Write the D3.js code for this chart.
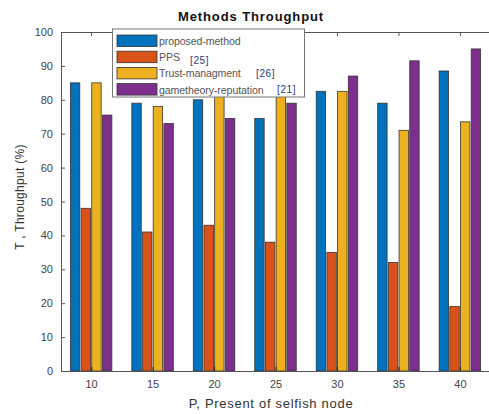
<!DOCTYPE html>
<html><head><meta charset="utf-8">
<script src="https://cdn.jsdelivr.net/npm/d3@7"></script>
<style>body{margin:0;background:#fff}svg{display:block}text{font-family:Arial,"Liberation Sans",sans-serif}</style>
</head><body>
<script>
const categories = [10, 15, 20, 25, 30, 35, 40];
const seriesNames = ["proposed-method", "PPS", "Trust-managment", "gametheory-reputation"];
const seriesCites = ["", "[25]", "[26]", "[21]"];
const proposed = [85, 79, 80, 74.5, 82.5, 79, 88.5];
const pps = [48, 41, 43, 38, 35, 32, 19];
const trust = [85, 78, 83, 81, 82.5, 71, 73.5];
const game = [75.5, 73, 74.5, 79, 87, 91.5, 95];
const yTicks = [0, 10, 20, 30, 40, 50, 60, 70, 80, 90, 100];
const colors = ["#0072BD", "#D95319", "#EDB120", "#7E2F8E"];
const series = [proposed, pps, trust, game];

const W = 489, H = 414;
const svg = d3.select("body").append("svg").attr("width", W).attr("height", H);
const mLeft = 61, mRight = 490, mTop = 32, mBottom = 371;
const x = d3.scaleLinear().domain([7.55, 42.45]).range([mLeft, mRight]);
const y = d3.scaleLinear().domain([0, 100]).range([mBottom, mTop]);
const unit = x(15) - x(10);
const slot = unit * 0.174;
const barW = slot * 0.88;

// bars
series.forEach((vals, si) => {
  svg.append("g").selectAll("rect").data(vals).join("rect")
    .attr("x", (d, i) => x(categories[i]) + (si - 1.5) * slot - barW / 2)
    .attr("y", d => y(d))
    .attr("width", barW)
    .attr("height", d => y(0) - y(d))
    .attr("fill", colors[si])
    .attr("stroke", "#333").attr("stroke-width", 0.8);
});

// axes
const axisColor = "#555";
const yAxis = svg.append("g").attr("transform", `translate(${mLeft},0)`)
  .call(d3.axisLeft(y).tickValues(yTicks).tickSize(-4).tickPadding(8));
yAxis.select(".domain").attr("stroke", axisColor);
yAxis.selectAll(".tick line").attr("stroke", axisColor);
yAxis.selectAll("text").attr("fill", "#444").attr("font-size", 11);

const xAxis = svg.append("g").attr("transform", `translate(0,${mBottom})`)
  .call(d3.axisBottom(x).tickValues(categories).tickSize(-4).tickPadding(9));
xAxis.select(".domain").attr("stroke", axisColor);
xAxis.selectAll(".tick line").attr("stroke", "#222");
xAxis.selectAll("text").attr("fill", "#444").attr("font-size", 11);

// top border with ticks
const xTop = svg.append("g").attr("transform", `translate(0,${mTop})`)
  .call(d3.axisTop(x).tickValues(categories).tickSize(-4).tickFormat(""));
xTop.select(".domain").attr("stroke", axisColor);
xTop.selectAll(".tick line").attr("stroke", axisColor);

// title & labels
svg.append("text").attr("x", 251).attr("y", 21).attr("text-anchor", "middle")
  .attr("font-size", 13).attr("font-weight", "bold").attr("letter-spacing", 0.9)
  .attr("fill", "#111").text("Methods Throughput");
svg.append("text").attr("transform", `translate(24,197) rotate(-90)`)
  .attr("text-anchor", "middle").attr("font-size", 12).attr("fill", "#333")
  .attr("letter-spacing", 0.3).text("T ,   Throughput (%)");
svg.append("text").attr("x", 271).attr("y", 408).attr("text-anchor", "middle")
  .attr("font-size", 13).attr("fill", "#333").attr("letter-spacing", 0.7)
  .text("P, Present of selfish node");

// legend
const lg = svg.append("g");
lg.append("rect").attr("x", 112.5).attr("y", 29).attr("width", 192).attr("height", 68)
  .attr("fill", "#fff").attr("stroke", "#777").attr("stroke-width", 1);
seriesNames.forEach((n, i) => {
  const yy = 35 + i * 16.2;
  lg.append("rect").attr("x", 117).attr("y", yy).attr("width", 40).attr("height", 11.5)
    .attr("fill", colors[i]).attr("stroke", "#333").attr("stroke-width", 0.8);
  lg.append("text").attr("x", 159).attr("y", yy + 10)
    .attr("font-size", 10.6).attr("fill", "#555").attr("letter-spacing", -0.1).text(n);
});
const citePos = [null, [190, 64], [256, 77], [277, 93]];
seriesCites.forEach((c, i) => {
  if (!c) return;
  svg.append("text").attr("x", citePos[i][0]).attr("y", citePos[i][1])
    .attr("font-size", 10).attr("fill", "#1f3d7a").attr("letter-spacing", 0.6).text(c);
});
</script>
</body></html>
